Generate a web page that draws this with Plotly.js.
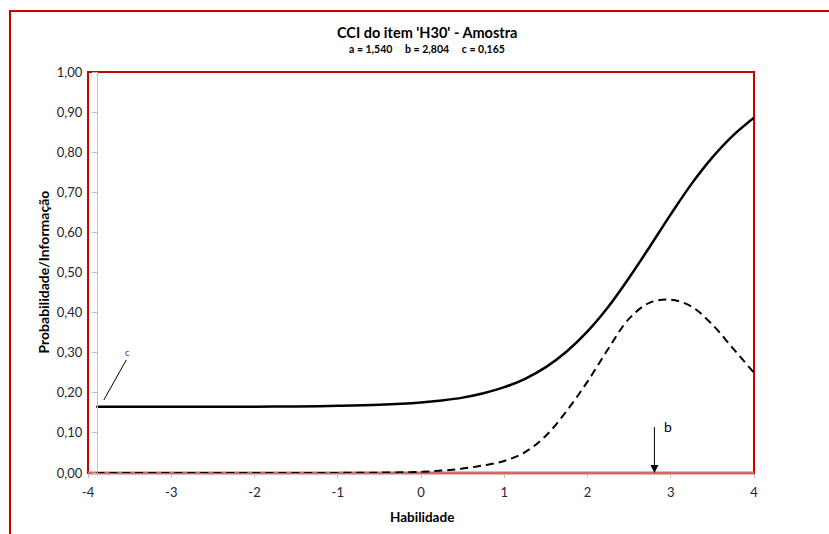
<!DOCTYPE html>
<html>
<head>
<meta charset="utf-8">
<script src="https://cdn.plot.ly/plotly-3.0.1.min.js"></script>
<style>html,body{margin:0;padding:0;background:#fff;}#chart{width:829px;height:534px;}</style>
</head>
<body>
<div id="chart"></div>
<script>
// Ability values (θ)
const theta = [-3.9, -3.5, -3, -2.5, -2, -1.5, -1, -0.5, 0, 0.25, 0.5, 0.75, 1, 1.25, 1.5, 1.75, 2, 2.25, 2.5, 2.75, 3, 3.25, 3.5, 3.75, 4];
// Probability curve (CCI)
const probability = [0.165, 0.165, 0.165, 0.165, 0.1655, 0.1661, 0.1674, 0.1701, 0.176, 0.181, 0.188, 0.199, 0.214, 0.235, 0.264, 0.303, 0.353, 0.4145, 0.487, 0.565, 0.645, 0.721, 0.787, 0.842, 0.886];
// Information curve
const information = [0, 0, 0, 0, 0, 0, 0.0003, 0.001, 0.003, 0.006, 0.011, 0.019, 0.03, 0.052, 0.093, 0.155, 0.228, 0.31, 0.385, 0.425, 0.432, 0.415, 0.37, 0.31, 0.25];

const xTicks = [-4, -3, -2, -1, 0, 1, 2, 3, 4];
const yTicks = [0, 0.1, 0.2, 0.3, 0.4, 0.5, 0.6, 0.7, 0.8, 0.9, 1.0];

const titleText = "CCI do item 'H30' - Amostra";
const subtitleText = "a = 1,540&nbsp;&nbsp;&nbsp;&nbsp;&nbsp;b = 2,804&nbsp;&nbsp;&nbsp;&nbsp;&nbsp;c = 0,165";
const bParam = 2.804;
const cLabelPos = {x: -3.52, y: 0.30};
const cLine = {x0: -3.54, y0: 0.282, x1: -3.81, y1: 0.182};

const FONT = "Lato, 'Open Sans', sans-serif";
const RED = '#cc0000';

const traces = [
  {x: theta, y: information, mode: 'lines', line: {color: '#000', width: 2, dash: '8px,5px', shape: 'spline'}, cliponaxis: false, hoverinfo: 'none'},
  {x: theta, y: probability, mode: 'lines', line: {color: '#000', width: 2.5, shape: 'spline'}, cliponaxis: false, hoverinfo: 'none'}
];

const layout = {
  width: 829, height: 534,
  margin: {l: 88, r: 75, t: 72, b: 61},
  paper_bgcolor: '#fff', plot_bgcolor: 'rgba(0,0,0,0)',
  separators: ',.',
  showlegend: false,
  font: {family: FONT, size: 13, color: '#262626'},
  xaxis: {
    range: [-4, 4], tickvals: xTicks, ticktext: xTicks.map(String),
    ticks: 'outside', ticklen: 4, tickcolor: '#bfbfbf',
    ticklabelstandoff: 3,
    showline: false, showgrid: false, zeroline: false,
    tickfont: {family: FONT, size: 13, color: '#262626'}
  },
  yaxis: {
    range: [0, 1], tickvals: yTicks, tickformat: '.2f',
    anchor: 'free', position: 9/666,
    showline: true, linecolor: '#bfbfbf', linewidth: 1,
    ticks: 'outside', ticklen: 5, tickcolor: '#bfbfbf',
    ticklabelstandoff: 7,
    showgrid: false, zeroline: false,
    tickfont: {family: FONT, size: 13, color: '#262626'}
  },
  shapes: [
    {type: 'rect', xref: 'paper', yref: 'paper', x0: 0, x1: 1, y0: 0, y1: 1, line: {color: RED, width: 2}, layer: 'below'},
    {type: 'line', xref: 'paper', yref: 'paper', x0: 0, x1: 1, y0: 0, y1: 0, line: {color: '#d06a6a', width: 3}, layer: 'below'},
    {type: 'rect', xref: 'paper', yref: 'paper', x0: -78/666, x1: 1.3, y0: -0.3, y1: 462/401, line: {color: RED, width: 2}, layer: 'below'},
    {type: 'line', xref: 'x', yref: 'y', x0: cLine.x0, y0: cLine.y0, x1: cLine.x1, y1: cLine.y1, line: {color: '#000', width: 1}}
  ],
  annotations: [
    {xref: 'paper', yref: 'paper', x: 339/666, y: (473-33)/401, text: '<b>' + titleText + '</b>', showarrow: false, xanchor: 'center', yanchor: 'middle', font: {family: FONT, size: 14.5, color: '#000'}},
    {xref: 'paper', yref: 'paper', x: 339/666, y: (473-49)/401, text: '<b>' + subtitleText + '</b>', showarrow: false, xanchor: 'center', yanchor: 'middle', font: {family: FONT, size: 10.5, color: '#000'}},
    {xref: 'paper', yref: 'paper', x: (422-88)/666, y: (473-517)/401, text: '<b>Habilidade</b>', showarrow: false, xanchor: 'center', yanchor: 'middle', font: {family: FONT, size: 13.5, color: '#000'}},
    {xref: 'paper', yref: 'paper', x: (43-88)/666, y: 0.5, text: '<b>Probabilidade/Informação</b>', textangle: -90, showarrow: false, xanchor: 'center', yanchor: 'middle', font: {family: FONT, size: 14, color: '#000'}},
    {xref: 'x', yref: 'y', x: cLabelPos.x, y: cLabelPos.y, text: 'c', showarrow: false, xanchor: 'center', yanchor: 'middle', font: {family: FONT, size: 9, color: '#3a3050'}},
    {xref: 'x', yref: 'y', x: bParam, y: 0, axref: 'x', ayref: 'y', ax: bParam, ay: 0.118, text: '', showarrow: true, arrowhead: 2, arrowsize: 1.6, arrowwidth: 1, arrowcolor: '#000', standoff: 0, startstandoff: 0},
    {xref: 'x', yref: 'y', x: 2.97, y: 0.115, text: 'b', showarrow: false, xanchor: 'center', yanchor: 'middle', font: {family: FONT, size: 14, color: '#000'}}
  ]
};

Plotly.newPlot('chart', traces, layout, {staticPlot: true, displayModeBar: false});
</script>
</body>
</html>
